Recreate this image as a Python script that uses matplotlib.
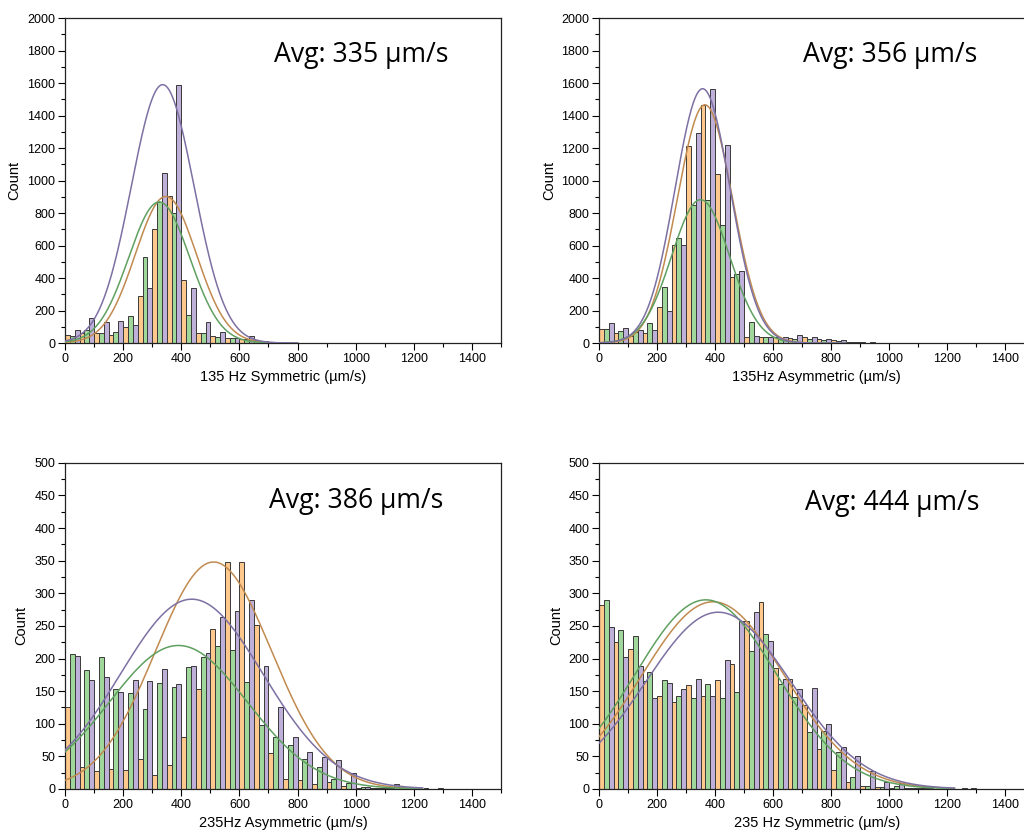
import matplotlib
matplotlib.use("Agg")
import matplotlib.pyplot as plt
from matplotlib.ticker import MultipleLocator
import numpy as np

plt.rcParams['font.family'] = ['Liberation Sans', 'DejaVu Sans']

# left edges of the 50 um/s bins
bin_left = np.arange(0, 1350, 50)
bin_w = 50

# 135 Hz Symmetric
tl_orange = [51, 61, 61, 49, 98, 287, 703, 902, 385, 61, 41, 29, 25, 20, 8, 4, 3, 2, 2, 1, 0, 0, 0, 0, 0, 0, 0]
tl_green = [41, 82, 61, 65, 168, 529, 868, 800, 172, 61, 37, 29, 25, 15, 5, 3, 2, 2, 1, 1, 0, 0, 0, 0, 0, 0, 0]
tl_purple = [78, 154, 131, 137, 108, 338, 1046, 1590, 336, 127, 65, 30, 45, 15, 5, 3, 2, 2, 1, 1, 0, 0, 0, 0, 0, 0, 0]

# 135Hz Asymmetric
tr_orange = [86, 61, 45, 61, 221, 605, 1214, 1466, 1042, 406, 37, 37, 37, 31, 37, 27, 16, 8, 4, 3, 2, 2, 1, 1, 0, 0, 0]
tr_green = [86, 74, 65, 123, 345, 644, 847, 882, 724, 422, 129, 37, 27, 25, 25, 20, 12, 6, 3, 2, 1, 1, 1, 0, 0, 0, 0]
tr_purple = [123, 90, 82, 82, 197, 601, 1292, 1565, 1220, 445, 41, 37, 37, 51, 37, 25, 20, 6, 4, 3, 2, 2, 1, 1, 0, 0, 0]

# 235Hz Asymmetric
bl_orange = [125, 33, 28, 30, 29, 46, 21, 37, 80, 153, 246, 348, 348, 252, 55, 16, 14, 7, 10, 5, 2, 1, 1, 1, 0, 0, 0]
bl_green = [207, 183, 202, 154, 147, 122, 162, 156, 187, 202, 219, 213, 164, 98, 80, 67, 46, 34, 15, 9, 3, 2, 1, 1, 0, 0, 0]
bl_purple = [204, 167, 172, 148, 167, 165, 184, 161, 188, 208, 263, 273, 290, 188, 125, 79, 56, 49, 44, 24, 3, 2, 7, 1, 1, 2, 0]

# 235 Hz Symmetric
br_orange = [282, 225, 214, 165, 142, 133, 159, 142, 167, 191, 257, 286, 185, 168, 128, 61, 29, 11, 4, 3, 2, 1, 1, 0, 0, 1, 0]
br_green = [290, 243, 235, 179, 167, 142, 139, 161, 139, 149, 211, 238, 161, 141, 88, 89, 56, 19, 4, 3, 4, 1, 1, 0, 0, 0, 0]
br_purple = [248, 203, 188, 139, 162, 153, 168, 142, 198, 258, 271, 227, 168, 154, 155, 99, 64, 51, 27, 11, 9, 2, 1, 1, 0, 1, 0]

# normal fits: (centre, height, sigma) for orange, green, purple
tl_fits = [(347, 902, 105), (324, 868, 105), (336, 1590, 108)]
tr_fits = [(365, 1466, 95), (350, 882, 100), (357, 1565, 95)]
bl_fits = [(511, 348, 200), (390, 220, 237), (436, 291, 245)]
br_fits = [(393, 287, 246), (368, 290, 244), (411, 271, 250)]

xlabels = ["135 Hz Symmetric (\u00b5m/s)", "135Hz Asymmetric (\u00b5m/s)",
           "235Hz Asymmetric (\u00b5m/s)", "235 Hz Symmetric (\u00b5m/s)"]
avg_texts = ["Avg: 335 \u00b5m/s", "Avg: 356 \u00b5m/s", "Avg: 386 \u00b5m/s", "Avg: 444 \u00b5m/s"]

fill_cols = ['#FFC88C', '#A0D79B', '#BEB0D8']
line_cols = ['#C08A50', '#5FA060', '#7D70A3']

fig = plt.figure(figsize=(10.24, 8.34), dpi=100)

panels = [
    ([0.0635, 0.5887, 0.4258, 0.3897], [tl_orange, tl_green, tl_purple], tl_fits, 2000, 200, 800, (0.479, 0.865)),
    ([0.5850, 0.5887, 0.4250, 0.3897], [tr_orange, tr_green, tr_purple], tr_fits, 2000, 200, 850, (0.469, 0.865)),
    ([0.0635, 0.0540, 0.4258, 0.3910], [bl_orange, bl_green, bl_purple], bl_fits, 500, 50, 1230, (0.468, 0.862)),
    ([0.5850, 0.0540, 0.4250, 0.3910], [br_orange, br_green, br_purple], br_fits, 500, 50, 1225, (0.474, 0.856)),
]

for i, (pos, series, fits, ymax, ystep, xfit_end, tpos) in enumerate(panels):
    ax = fig.add_axes(pos)
    sub_w = bin_w / 3.0
    for j, vals in enumerate(series):
        ax.bar(bin_left + j * sub_w, vals, width=sub_w, align='edge',
               color=fill_cols[j], edgecolor='#3a3a3a', linewidth=0.7, zorder=2)
    xs = np.linspace(0, xfit_end, 400)
    for j, (mu, amp, sd) in enumerate(fits):
        ax.plot(xs, amp * np.exp(-(xs - mu) ** 2 / (2 * sd ** 2)),
                color=line_cols[j], linewidth=1.1, zorder=3)

    ax.set_xlim(0, 1500)
    ax.set_ylim(0, ymax)
    ax.xaxis.set_major_locator(MultipleLocator(200))
    ax.xaxis.set_minor_locator(MultipleLocator(100))
    ax.yaxis.set_major_locator(MultipleLocator(ystep))
    ax.yaxis.set_minor_locator(MultipleLocator(ystep / 2))
    ax.tick_params(which='major', direction='out', length=5, width=0.8, labelsize=9, pad=2)
    ax.tick_params(which='minor', direction='out', length=3, width=0.8)
    for sp in ax.spines.values():
        sp.set_linewidth(0.9)
        sp.set_color('#222222')
    ax.set_xlabel(xlabels[i], fontsize=10.5, labelpad=4)
    ax.set_ylabel("Count", fontsize=10.5, labelpad=4)
    ax.text(tpos[0], tpos[1], avg_texts[i], transform=ax.transAxes,
            ha='left', va='baseline', fontsize=19.2, family=['Open Sans', 'DejaVu Sans'])

fig.savefig("out.png", dpi=100)
